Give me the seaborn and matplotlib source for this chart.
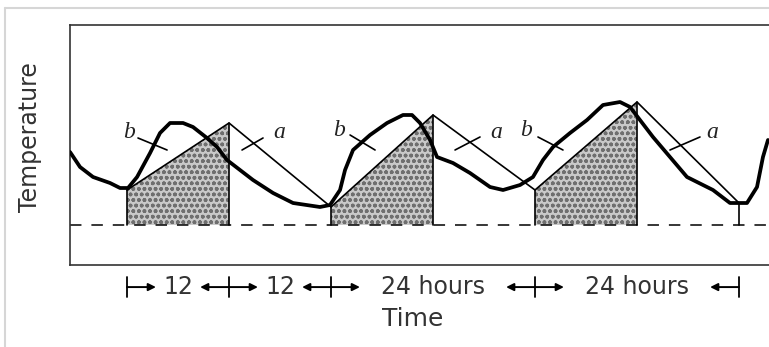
import numpy as np
import pandas as pd
import matplotlib as mpl
import seaborn as sns
from matplotlib import pyplot as plt
from matplotlib.lines import Line2D

# thick curve (b): actual temperature traced through the day
actual_hours = [-6.71, -6.47, -5.53, -4.0, -2.0, -0.82, 0.12, 1.18, 2.71, 3.88,
                5.06, 6.59, 7.76, 9.41, 10.59, 11.76, 13.29, 14.82, 17.18, 19.53,
                22.7, 23.88, 25.06, 25.65, 26.59, 28.59, 30.59, 32.47, 33.53, 34.47,
                35.65, 36.47, 38.35, 40.35, 42.71, 44.24, 46.24, 47.76, 48.94, 50.12,
                52.12, 54.12, 56.0, 58.0, 59.18, 60.35, 61.88, 63.88, 65.88, 68.94,
                70.94, 72.94, 74.12, 74.82, 75.41]
actual_temp = [17.3, 17.0, 15.8, 14.8, 14.2, 13.7, 13.7, 14.8, 17.2, 19.2,
               20.2, 20.2, 19.8, 18.7, 17.8, 16.5, 15.5, 14.5, 13.2, 12.2,
               11.8, 12.0, 13.5, 15.5, 17.5, 19.0, 20.2, 21.0, 21.0, 20.2,
               18.5, 16.8, 16.2, 15.2, 13.8, 13.5, 14.0, 14.8, 16.5, 17.8,
               19.2, 20.5, 22.0, 22.3, 21.8, 20.5, 18.8, 16.8, 14.8, 13.5,
               12.2, 12.2, 13.8, 16.8, 18.5]

# thin line (a): triangle approximation from daily min / max
tri_hours = [0, 12, 24, 36, 48, 60, 72]
tri_temp = [13.5, 20.2, 11.8, 21.0, 13.5, 22.3, 12.2]

threshold = 10.0

# interval marks under the axis
interval_edges = [0, 12, 24, 48, 72]
interval_labels = ["12", "12", "24 hours", "24 hours"]

# curve labels and their leader lines
curve_names = ["b", "a", "b", "a", "b", "a"]
name_hours = [0.2, 17.9, 24.9, 43.4, 46.9, 68.9]
name_temp = [19.3, 19.3, 19.5, 19.3, 19.5, 19.3]
leader_start = [(1.29, 18.7), (16.0, 18.7), (26.24, 19.0), (41.53, 18.8), (48.35, 18.8), (67.41, 18.8)]
leader_end = [(4.71, 17.5), (13.53, 17.5), (29.18, 17.5), (38.59, 17.5), (51.29, 17.5), (63.88, 17.5)]

sns.set_style("white")
plt.rcParams["font.family"] = ["DejaVu Sans"]
plt.rcParams["hatch.linewidth"] = 1.1

fig = plt.figure(figsize=(7.69, 3.47), dpi=100)
ax = fig.add_axes([70 / 769, 1 - 265 / 347, 1 - 70 / 769, 240 / 347])

# shaded degree-day areas under the rising parts of the triangle line
for i in range(0, len(tri_hours) - 1, 2):
    xs = [tri_hours[i], tri_hours[i + 1]]
    ys = [tri_temp[i], tri_temp[i + 1]]
    ax.fill_between(xs, threshold, ys, facecolor="#c9c9c9", edgecolor="#6f6f6f",
                    hatch="ooo", linewidth=0, zorder=1)
    for x, y in zip(xs, ys):
        ax.plot([x, x], [threshold, y], color="black", lw=1.2, zorder=3)
ax.plot([tri_hours[-1]] * 2, [threshold, tri_temp[-1]], color="black", lw=1.2, zorder=3)

ax.axhline(threshold, color="black", lw=1.1, ls=(0, (7.5, 6.5)), zorder=2)

tri = pd.DataFrame({"hours": tri_hours, "temp": tri_temp})
sns.lineplot(data=tri, x="hours", y="temp", sort=False, color="black", lw=1.2,
             ax=ax, zorder=4)
actual = pd.DataFrame({"hours": actual_hours, "temp": actual_temp})
sns.lineplot(data=actual, x="hours", y="temp", sort=False, color="black", lw=2.7,
             ax=ax, zorder=5, solid_joinstyle="round", solid_capstyle="round")

for name, x, y, p0, p1 in zip(curve_names, name_hours, name_temp, leader_start, leader_end):
    ax.text(x, y, name, fontsize=17, style="italic", family=["Liberation Serif", "DejaVu Serif"],
            ha="center", va="center", zorder=6, color="#222222")
    ax.plot([p0[0], p1[0]], [p0[1], p1[1]], color="black", lw=1.2, zorder=6)

ax.set_xlim(-6.71, 75.53)
ax.set_ylim(6, 30)
ax.set_xticks([])
ax.set_yticks([])
for side in ("left", "top", "bottom"):
    ax.spines[side].set_color("#333333")
    ax.spines[side].set_linewidth(1.2)
ax.spines["right"].set_visible(False)

# interval arrows below the axis
trans = ax.get_xaxis_transform()
ya = -0.092
arrow_len = 3.4
for t in interval_edges:
    ax.plot([t, t], [ya - 0.042, ya + 0.042], color="black", lw=1.3,
            transform=trans, clip_on=False)
for (t0, t1), lab in zip(zip(interval_edges[:-1], interval_edges[1:]), interval_labels):
    ax.text((t0 + t1) / 2, ya, lab, fontsize=17, ha="center", va="center",
            color="#333333", transform=trans)
    for start, end in ((t0, t0 + arrow_len), (t1, t1 - arrow_len)):
        ax.annotate("", xy=(end, ya), xytext=(start, ya), xycoords=trans,
                    textcoords=trans,
                    arrowprops=dict(arrowstyle="-|>", color="black", lw=1.4,
                                    mutation_scale=11, shrinkA=0, shrinkB=0))

ax.set_xlabel("Time", fontsize=18, color="#333333")
ax.xaxis.set_label_coords(0.49, -0.175)
ax.set_ylabel("Temperature", fontsize=17, color="#333333")
ax.yaxis.set_label_coords(-0.04, 0.533)

# faint outer frame of the original figure
fig.add_artist(Line2D([5 / 769, 5 / 769], [0, 1 - 8 / 347], color="#d6d6d6", lw=1.5))
fig.add_artist(Line2D([5 / 769, 1], [1 - 8 / 347, 1 - 8 / 347], color="#d6d6d6", lw=1.5))

fig.savefig("out.png", dpi=100)
